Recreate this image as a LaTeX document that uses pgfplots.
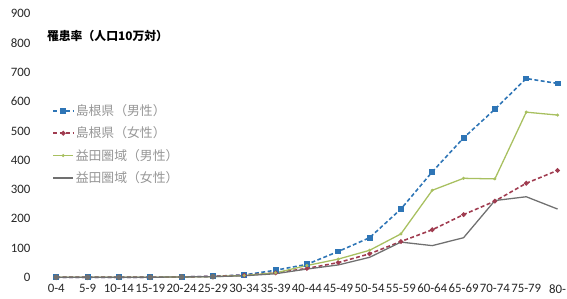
\documentclass[border=0pt]{standalone}
\usepackage{fontspec}
\setmainfont{Noto Sans CJK JP}
\newfontfamily\carlito{Carlito}
\usepackage{pgfplots}
\pgfplotsset{compat=1.18}
\definecolor{cBlue}{RGB}{46,117,182}
\definecolor{cRed}{RGB}{160,60,80}
\definecolor{cGreen}{RGB}{168,192,96}
\definecolor{cGray}{RGB}{112,112,112}
\definecolor{cLeg}{RGB}{150,150,150}
\begin{document}
\begin{tikzpicture}
\begin{axis}[
  scale only axis,
  width=522.3pt, height=272.9pt,
  xmin=-0.4, xmax=16.05,
  ymin=-20, ymax=900,
  axis line style={draw=none},
  major tick length=0pt,
  xtick={0,...,16},
  xticklabels={0-4,5-9,10-14,15-19,20-24,25-29,30-34,35-39,40-44,45-49,50-54,55-59,60-64,65-69,70-74,75-79,80-},
  ytick={0,100,...,900},
  /pgf/number format/assume math mode=true,
  ticklabel style={font=\carlito\fontsize{13}{13}\selectfont, text=black!85},
  yticklabel style={xshift=-10pt},
  xticklabel style={inner sep=1pt},
  clip=false,
  legend cell align=left,
  legend style={at={(axis description cs:0.011,0.678)}, anchor=north west, draw=none, fill=none,
    font=\fontsize{13}{13}\selectfont, text=cLeg, row sep=6pt,
    /tikz/every even column/.append style={column sep=2pt}},
  legend image code/.code={\draw[#1] (0pt,0pt) -- (20pt,0pt); \path[#1] plot coordinates {(10pt,0pt)};},
]
\addplot[cBlue, line width=1.6pt, dash pattern=on 4pt off 2.5pt, mark=square*, mark size=2.2pt, mark options={solid}] coordinates {
(0,0)(1,0)(2,0)(3,0)(4,1)(5,3)(6,8)(7,24)(8,44)(9,88)(10,135)(11,233)(12,360)(13,476)(14,574)(15,679)(16,662)};
\addlegendentry{島根県（男性）}
\addplot[cRed, line width=1.6pt, dash pattern=on 4pt off 2.5pt, mark=*, mark size=1.5pt, mark options={solid}] coordinates {
(0,0)(1,0)(2,0)(3,0)(4,1)(5,3)(6,7)(7,15)(8,30)(9,50)(10,80)(11,122)(12,162)(13,214)(14,260)(15,321)(16,365)};
\addlegendentry{島根県（女性）}
\addplot[cGreen, line width=1.3pt, mark=*, mark size=0.8pt] coordinates {
(0,0)(1,0)(2,0)(3,0)(4,1)(5,2)(6,6)(7,15)(8,40)(9,62)(10,92)(11,148)(12,297)(13,338)(14,336)(15,564)(16,554)};
\addlegendentry{益田圏域（男性）}
\addplot[cGray, line width=1.3pt, mark=*, mark size=2.2pt, mark indices={1,2,3,4,5,6},
  legend image code/.code={\draw[cGray, line width=1.3pt] (0pt,0pt) -- (20pt,0pt);}] coordinates {
(0,0)(1,0)(2,0)(3,0)(4,1)(5,2)(6,5)(7,12)(8,28)(9,42)(10,68)(11,120)(12,108)(13,135)(14,262)(15,275)(16,233)};
\addlegendentry{益田圏域（女性）}
\node[anchor=west, font=\bfseries\fontsize{12}{12}\selectfont, inner sep=0pt] at (axis cs:-0.3,825) {罹患率（人口10万対）};
\end{axis}
\path[use as bounding box] ([xshift=-44.3pt,yshift=-16.1pt]current axis.south west) rectangle ([xshift=0.4pt,yshift=14pt]current axis.north east);
\end{tikzpicture}
\end{document}
